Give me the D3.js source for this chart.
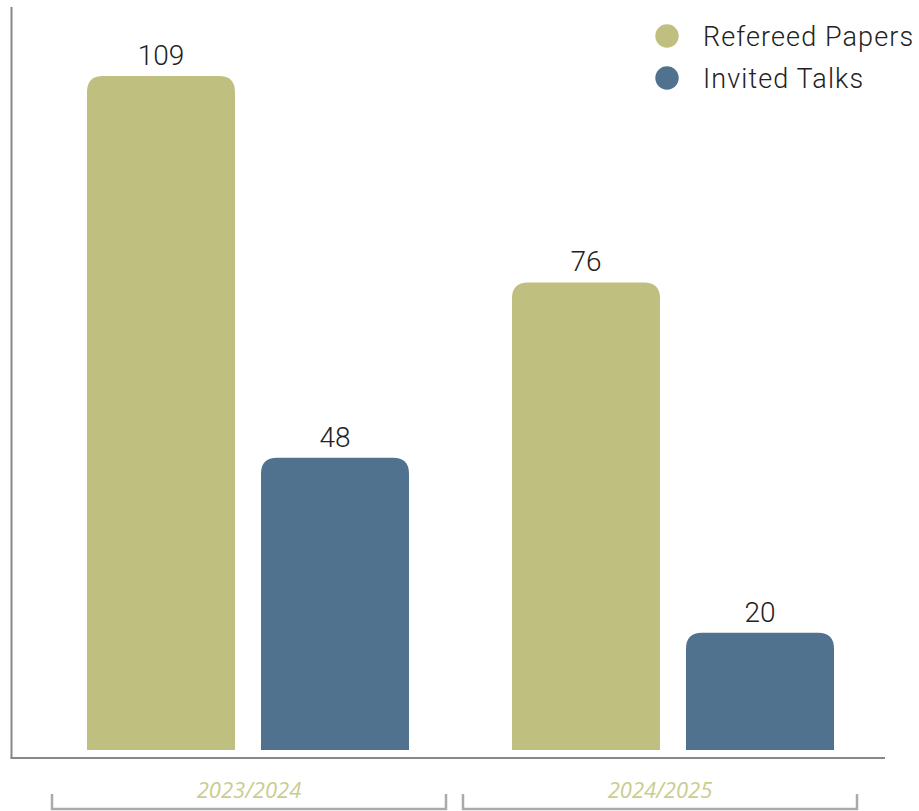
<!DOCTYPE html>
<html>
<head>
<meta charset="utf-8">
<script src="https://cdn.jsdelivr.net/npm/d3@7"></script>
<style>
  html, body { margin: 0; padding: 0; background: #fff; }
  svg { display: block; }
</style>
</head>
<body>
<svg id="chart" width="919" height="811"></svg>
<script>
// Publication counts per academic year
const years = ["2023/2024", "2024/2025"];
const seriesNames = ["Refereed Papers", "Invited Talks"];
const refereedPapers = [109, 76];
const invitedTalks = [48, 20];
const seriesColors = ["#bfbf80", "#50728f"];

const rows = years.map((yr, i) => ({
  year: yr,
  values: [
    { key: seriesNames[0], value: refereedPapers[i] },
    { key: seriesNames[1], value: invitedTalks[i] }
  ]
}));

const svg = d3.select("#chart");

const baseY = 758;      // y of the value zero (axis line)
const barGap = 8;       // bars stop short of the axis line
const radius = 16;

const y = d3.scaleLinear().domain([0, 109]).range([baseY, 76]);

const x0 = d3.scaleBand().domain(years).range([35.5, 885.5]).padding(0);
const x1 = d3.scaleBand().domain(seriesNames).range([51.5, 373.5])
  .paddingInner(26 / 174).paddingOuter(0);
const color = d3.scaleOrdinal().domain(seriesNames).range(seriesColors);

// bracket scale under the axis
const xb = d3.scaleBand().domain(years).range([52, 857])
  .paddingInner(17 / 411).paddingOuter(0);

// axes
svg.append("line")
  .attr("x1", 11.5).attr("x2", 11.5).attr("y1", 7).attr("y2", baseY)
  .attr("stroke", "#888").attr("stroke-width", 2);
svg.append("line")
  .attr("x1", 10.5).attr("x2", 885).attr("y1", baseY).attr("y2", baseY)
  .attr("stroke", "#888").attr("stroke-width", 2);

// bar path with rounded top corners
function topRounded(x, top, w, bottom, r) {
  const rr = Math.min(r, w / 2, bottom - top);
  return `M${x},${bottom}V${top + rr}Q${x},${top} ${x + rr},${top}` +
    `H${x + w - rr}Q${x + w},${top} ${x + w},${top + rr}V${bottom}Z`;
}

const groups = svg.selectAll("g.grp").data(rows).join("g")
  .attr("class", "grp")
  .attr("transform", d => `translate(${x0(d.year)},0)`);

groups.selectAll("path.bar").data(d => d.values).join("path")
  .attr("class", "bar")
  .attr("fill", d => color(d.key))
  .attr("d", d => topRounded(x1(d.key), y(d.value), x1.bandwidth(), baseY - barGap, radius));

groups.selectAll("text.val").data(d => d.values).join("text")
  .attr("class", "val")
  .attr("x", d => x1(d.key) + x1.bandwidth() / 2)
  .attr("y", d => y(d.value) - 11)
  .attr("text-anchor", "middle")
  .attr("font-family", "Roboto, 'Liberation Sans', sans-serif")
  .attr("font-weight", 300)
  .attr("font-size", 28)
  .attr("fill", "#222")
  .text(d => d.value);

// year brackets and labels
const br = svg.selectAll("g.br").data(years).join("g").attr("class", "br");
br.append("path")
  .attr("d", d => `M${xb(d)},794V809H${xb(d) + xb.bandwidth()}V794`)
  .attr("fill", "none").attr("stroke", "#aaa").attr("stroke-width", 2.5);
br.append("text")
  .attr("x", d => xb(d) + xb.bandwidth() / 2)
  .attr("y", 798)
  .attr("text-anchor", "middle")
  .attr("font-family", "'Open Sans', sans-serif")
  .attr("font-style", "italic")
  .attr("font-size", 22)
  .attr("fill", "#c9cd8f")
  .text(d => d);

// legend
const legend = svg.append("g").selectAll("g").data(seriesNames).join("g")
  .attr("transform", (d, i) => `translate(667,${36 + i * 42})`);
legend.append("circle").attr("r", 11.7).attr("fill", d => color(d));
legend.append("text")
  .attr("x", 36).attr("y", 10)
  .attr("font-family", "Roboto, 'Liberation Sans', sans-serif")
  .attr("font-weight", 300)
  .attr("font-size", 27)
  .attr("letter-spacing", 1.1)
  .attr("fill", "#222")
  .text(d => d);
</script>
</body>
</html>
